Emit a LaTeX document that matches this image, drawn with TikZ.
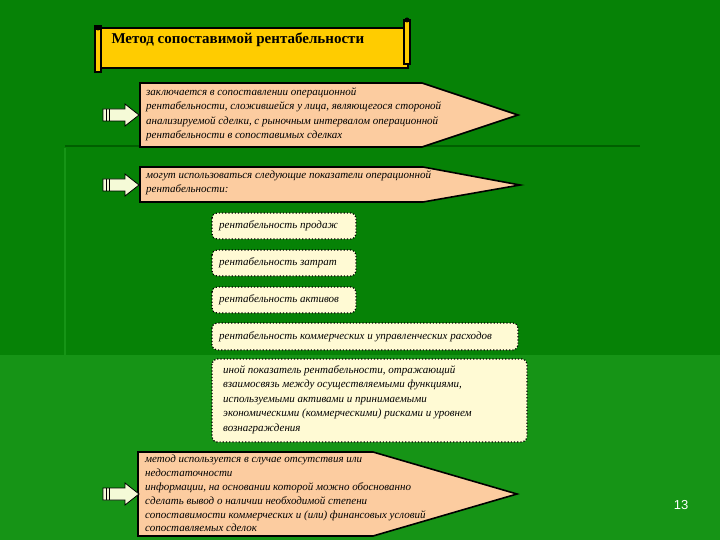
\documentclass[tikz,border=0pt]{standalone}
\usepackage{fontspec}
\setmainfont{Liberation Serif}
\newfontfamily\numfont{Liberation Sans}
\begin{document}
\begin{tikzpicture}[x=1pt,y=-1pt,
  pent/.style={draw=black,line width=1.6pt,fill=peach},
  small/.style={draw=black,line width=1.2pt,dotted,fill=cream,rounded corners=5pt},
  txt/.style={font=\fontsize{11}{14.5}\selectfont\itshape,align=left,anchor=north west,inner sep=0pt},
  barrow/.style={draw=black,line width=0.8pt,fill=arrowc}]
\definecolor{bg}{RGB}{6,130,6}
\definecolor{peach}{RGB}{252,204,160}
\definecolor{cream}{RGB}{255,250,212}
\definecolor{gold}{RGB}{255,204,0}
\definecolor{arrowc}{RGB}{245,250,215}
\definecolor{lite}{RGB}{22,148,22}
\definecolor{dk}{RGB}{0,95,0}
\useasboundingbox (0,0) rectangle (720,540);
\fill[bg] (0,0) rectangle (720,540);
\fill[lite] (0,355) rectangle (720,540);
\draw[dk,line width=2pt] (65,146) -- (640,146);
\draw[lite,line width=1.5pt] (65,148) -- (65,540);
% title scroll
\path[draw=black,line width=1.6pt,fill=gold] (97,28) rectangle (408,68);
\draw[black,line width=1.4pt,fill=gold] (95,26) rectangle (101,72);
\draw[black,line width=1.4pt,fill=gold] (404,20) rectangle (410,64);
\fill[black] (98,28) circle (2.5pt) (407,20) circle (2.5pt);
\node[anchor=west,font=\fontsize{15}{18}\selectfont\bfseries] (title) at (108,40) {Метод сопоставимой рентабельности};
% box1
\draw[pent] (140,83) -- (422,83) -- (518,115) -- (422,147) -- (140,147) -- cycle;
\node[txt] (t1) at (146,87) {заключается в сопоставлении операционной\\рентабельности, сложившейся у лица, являющегося стороной\\анализируемой сделки, с рыночным интервалом операционной\\рентабельности в сопоставимых сделках};
% box2
\draw[pent] (140,167) -- (423,167) -- (520,185) -- (423,202) -- (140,202) -- cycle;
\node[txt] (t2) at (146,170) {могут использоваться следующие показатели операционной\\рентабельности:};
% small boxes
\draw[small] (212,213) rectangle (356,239);
\node[txt,anchor=west] (s1) at (219,226) {рентабельность продаж};
\draw[small] (212,250) rectangle (356,276);
\node[txt,anchor=west] (s2) at (219,263) {рентабельность затрат};
\draw[small] (212,287) rectangle (356,313);
\node[txt,anchor=west] (s3) at (219,300) {рентабельность активов};
\draw[small] (212,323) rectangle (518,350);
\node[txt,anchor=west] (s4) at (219,336.5) {рентабельность коммерческих и управленческих расходов};
\draw[small] (212,359) rectangle (527,442);
\node[txt] (t5) at (223,365) {иной показатель рентабельности, отражающий\\взаимосвязь между осуществляемыми функциями,\\используемыми активами и принимаемыми\\экономическими (коммерческими) рисками и уровнем\\вознаграждения};
% box3
\draw[pent] (138,452) -- (373,452) -- (517,494) -- (373,536) -- (138,536) -- cycle;
\node[txt,font=\fontsize{11}{13.8}\selectfont\itshape] (t3) at (145,455) {метод используется в случае отсутствия или\\недостаточности\\информации, на основании которой можно обоснованно\\сделать вывод о наличии необходимой степени\\сопоставимости коммерческих и (или) финансовых условий\\сопоставляемых сделок};
% arrows
\foreach \yy in {115,185,494}{
  \draw[barrow] (103,\yy-6) -- (125,\yy-6) -- (125,\yy-11) -- (139,\yy) -- (125,\yy+11) -- (125,\yy+6) -- (103,\yy+6) -- cycle;
  \draw[black,line width=0.8pt] (106,\yy-6) -- (106,\yy+6) (109,\yy-6) -- (109,\yy+6);
}
\node[font=\numfont\fontsize{13}{15}\selectfont,text=white] (num) at (681,505) {13};
\end{tikzpicture}
\end{document}
